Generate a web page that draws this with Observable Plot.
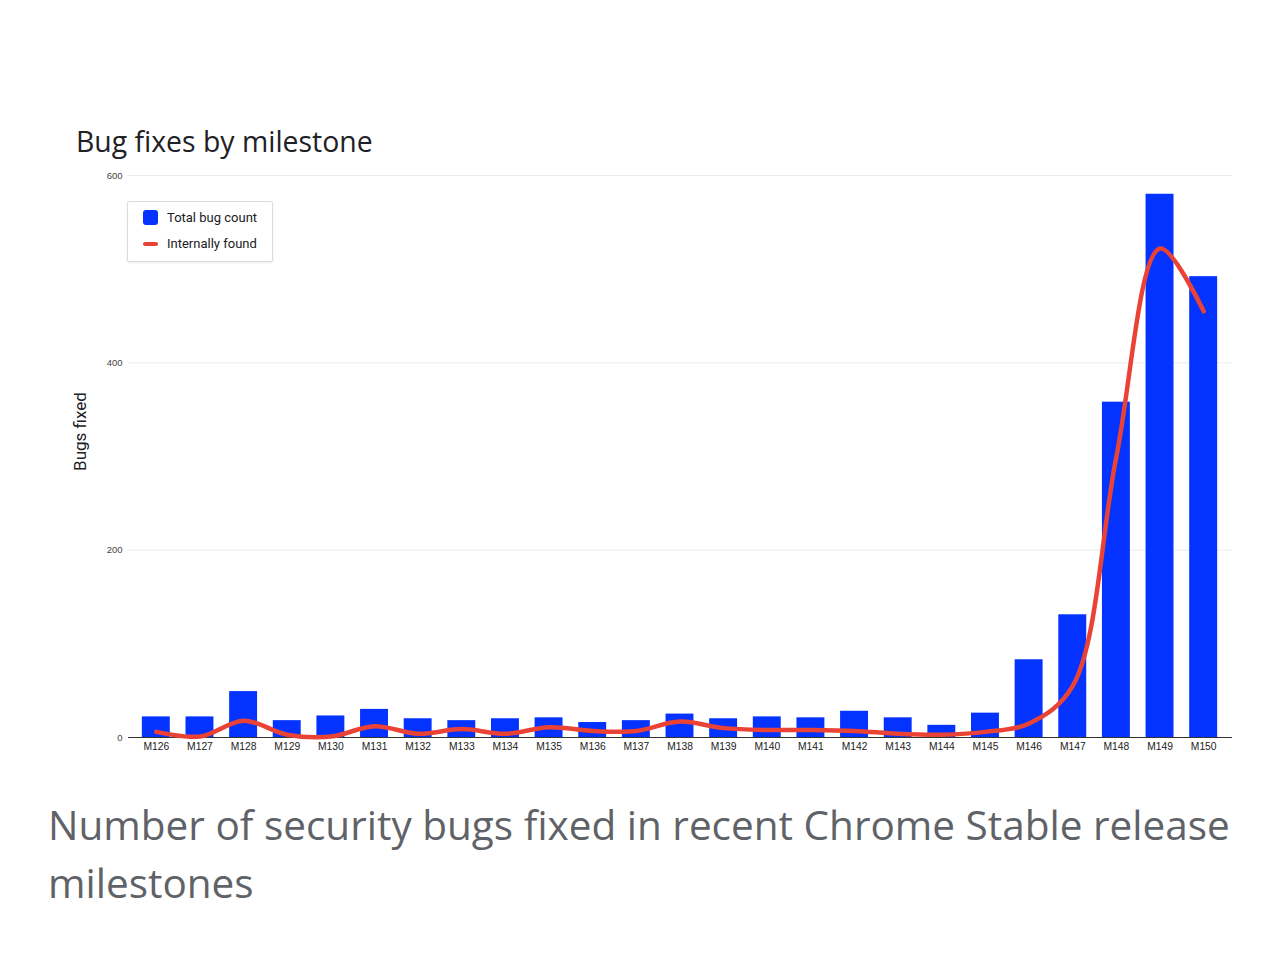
<!DOCTYPE html>
<html>
<head>
<meta charset="utf-8">
<script src="https://cdn.jsdelivr.net/npm/d3@7"></script>
<script src="https://cdn.jsdelivr.net/npm/@observablehq/plot@0.6"></script>
<style>
  html, body { margin: 0; padding: 0; background: #fff; }
  body { width: 1284px; height: 966px; position: relative; overflow: hidden; }
  #title { position: absolute; left: 76px; top: 122px; font-family: 'Open Sans', sans-serif; font-size: 28.4px; color: #202124; white-space: nowrap; }
  #chart { position: absolute; left: 0; top: 160px; }
  #legend { position: absolute; left: 127px; top: 201px; width: 144px; height: 59px; border: 1px solid #dadce0; border-radius: 2px; box-shadow: 0 1px 2px rgba(0,0,0,0.08); background: #fff; font-family: Roboto, sans-serif; font-size: 13px; color: #202124; }
  .item { position: absolute; left: 15px; display: flex; align-items: center; }
  .swatch { width: 15px; height: 15px; border-radius: 3px; margin-right: 9px; }
  .dash { width: 15px; height: 4px; border-radius: 2px; margin-right: 9px; }
  #caption { position: absolute; left: 48px; top: 796px; width: 1220px; font-family: 'Open Sans', sans-serif; font-size: 40.5px; line-height: 58px; color: #5f6368; }
</style>
</head>
<body>
<div id="title">Bug fixes by milestone</div>
<div id="chart"></div>
<div id="legend"></div>
<div id="caption">Number of security bugs fixed in recent Chrome Stable release milestones</div>
<script>
const milestones = ["M126","M127","M128","M129","M130","M131","M132","M133","M134","M135","M136","M137","M138","M139","M140","M141","M142","M143","M144","M145","M146","M147","M148","M149","M150"];
const totalBugCount = [22, 22, 49, 18, 23, 30, 20, 18, 20, 21, 16, 18, 25, 20, 22, 21, 28, 21, 13, 26, 83, 131, 358, 580, 492];
const internallyFound = [6, 1, 18, 3, 1, 12, 4, 9, 4, 11, 7, 7, 17, 10, 8, 8, 7, 4, 3, 6, 15, 55, 300, 522, 455];
const yTicks = [0, 200, 400, 600];
const seriesNames = ["Total bug count", "Internally found"];
const seriesColors = ["#0433ff", "#ea4335"];
const yLabel = "Bugs fixed";

const data = milestones.map((m, i) => ({milestone: m, total: totalBugCount[i], internal: internallyFound[i]}));

const chart = Plot.plot({
  width: 1284,
  height: 600,
  marginTop: 15,
  marginBottom: 23,
  marginLeft: 128,
  marginRight: 52,
  style: {fontFamily: "'Liberation Sans', Arial, sans-serif", background: "transparent"},
  x: {domain: milestones, paddingInner: 0.36, paddingOuter: 0.18, insetLeft: 6, insetRight: 7, round: false, label: null},
  y: {domain: [0, 600], label: null},
  marks: [
    Plot.gridY(yTicks, {stroke: "#ebebeb", strokeOpacity: 1}),
    Plot.barY(data, {x: "milestone", y: "total", fill: seriesColors[0]}),
    Plot.ruleY([0], {stroke: "#333", strokeWidth: 1.2}),
    Plot.line(data, {x: "milestone", y: "internal", stroke: seriesColors[1], strokeWidth: 4.5, curve: "catmull-rom", strokeLinecap: "round"}),
    Plot.axisY(yTicks, {tickSize: 0, tickPadding: 6, fontSize: 9.5, fill: "#444", label: null}),
    Plot.axisX({tickSize: 0, tickPadding: 5, fontSize: 10.3, fill: "#222", label: null}),
    Plot.text([yLabel], {frameAnchor: "left", text: d => d, rotate: -90, textAnchor: "middle", dx: -48, dy: -25, fontSize: 17, fill: "#202124", fontFamily: "Roboto, sans-serif"})
  ]
});
document.getElementById("chart").appendChild(chart);

const legend = document.getElementById("legend");
seriesNames.forEach((name, i) => {
  const item = document.createElement("div");
  item.className = "item";
  item.style.top = (i === 0 ? 8 : 34) + "px";
  const sw = document.createElement("div");
  sw.className = i === 0 ? "swatch" : "dash";
  sw.style.background = seriesColors[i];
  const tx = document.createElement("span");
  tx.textContent = name;
  item.appendChild(sw);
  item.appendChild(tx);
  legend.appendChild(item);
});
</script>
</body>
</html>
